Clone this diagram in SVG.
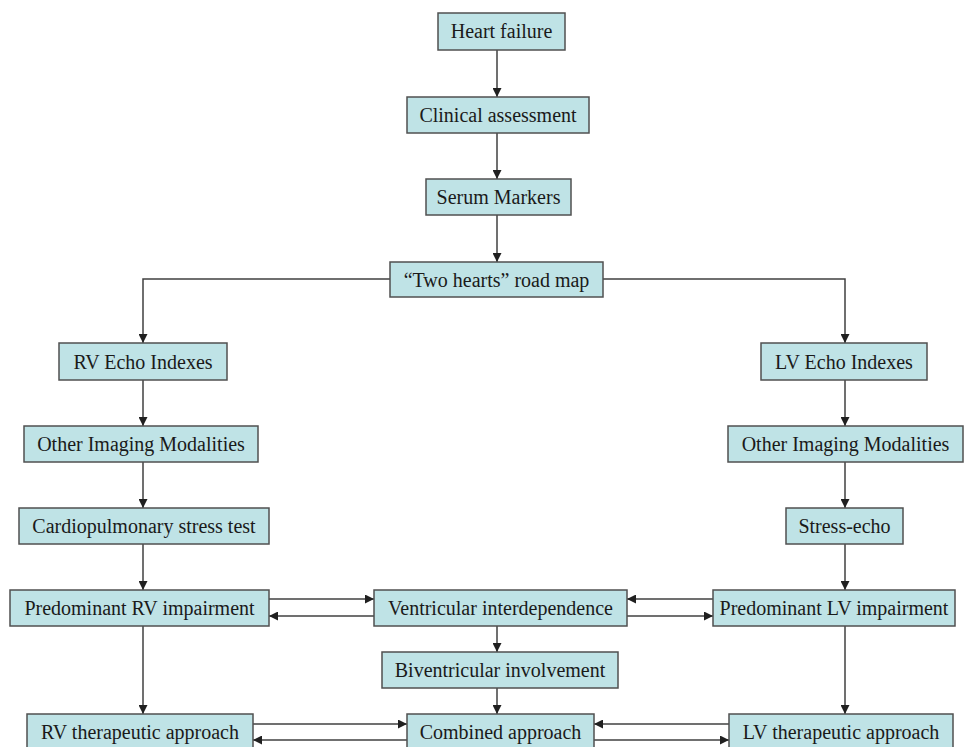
<svg xmlns="http://www.w3.org/2000/svg" width="968" height="747" viewBox="0 0 968 747">
<style>
.box{fill:#bfe3e6;stroke:#505050;stroke-width:1.5}
.lbl{font-family:"Liberation Serif","Times New Roman",serif;font-size:20px;fill:#1a1a1a;text-anchor:middle}
.con{fill:none;stroke:#404040;stroke-width:1.5;marker-end:url(#ah)}
</style>
<defs>
<marker id="ah" markerUnits="userSpaceOnUse" markerWidth="9" markerHeight="9" refX="9" refY="4.5" orient="auto">
<path d="M0,0 L9,4.5 L0,9 z" fill="#202020"/>
</marker>
</defs>
<rect width="968" height="747" fill="#ffffff"/>
<g id="connectors">
<line class="con" x1="497" y1="50" x2="497" y2="97"/>
<line class="con" x1="497" y1="133" x2="497" y2="179"/>
<line class="con" x1="497" y1="215" x2="497" y2="262"/>
<path class="con" d="M390,279 H143 V343"/>
<path class="con" d="M603,279 H845 V343"/>
<line class="con" x1="143" y1="380" x2="143" y2="426"/>
<line class="con" x1="143" y1="462" x2="143" y2="508"/>
<line class="con" x1="143" y1="544" x2="143" y2="590"/>
<line class="con" x1="143" y1="626" x2="143" y2="714"/>
<line class="con" x1="845" y1="380" x2="845" y2="426"/>
<line class="con" x1="845" y1="462" x2="845" y2="508"/>
<line class="con" x1="845" y1="544" x2="845" y2="590"/>
<line class="con" x1="845" y1="626" x2="845" y2="714"/>
<line class="con" x1="269" y1="599" x2="374" y2="599"/>
<line class="con" x1="374" y1="616" x2="269" y2="616"/>
<line class="con" x1="713" y1="599" x2="627" y2="599"/>
<line class="con" x1="627" y1="616" x2="713" y2="616"/>
<line class="con" x1="497" y1="626" x2="497" y2="652"/>
<line class="con" x1="497" y1="688" x2="497" y2="714"/>
<line class="con" x1="253" y1="724" x2="407" y2="724"/>
<line class="con" x1="407" y1="740" x2="253" y2="740"/>
<line class="con" x1="729" y1="724" x2="594" y2="724"/>
<line class="con" x1="594" y1="740" x2="729" y2="740"/>
</g>
<g id="heart-failure"><rect class="box" x="438" y="13" width="127" height="37"/><text class="lbl" x="501.5" y="38">Heart failure</text></g>
<g id="clinical-assessment"><rect class="box" x="407" y="97" width="182" height="36"/><text class="lbl" x="498" y="122">Clinical assessment</text></g>
<g id="serum-markers"><rect class="box" x="426" y="179" width="145" height="36"/><text class="lbl" x="498.5" y="204">Serum Markers</text></g>
<g id="two-hearts"><rect class="box" x="390" y="262" width="213" height="35"/><text class="lbl" x="496.5" y="287">“Two hearts” road map</text></g>
<g id="rv-echo"><rect class="box" x="59" y="343" width="168" height="37"/><text class="lbl" x="143" y="369">RV Echo Indexes</text></g>
<g id="rv-other"><rect class="box" x="24" y="426" width="234" height="36"/><text class="lbl" x="141" y="451">Other Imaging Modalities</text></g>
<g id="cardiopulmonary"><rect class="box" x="19" y="508" width="250" height="36"/><text class="lbl" x="144" y="533">Cardiopulmonary stress test</text></g>
<g id="rv-impairment"><rect class="box" x="10" y="590" width="259" height="36"/><text class="lbl" x="139.5" y="615">Predominant RV impairment</text></g>
<g id="rv-therapeutic"><rect class="box" x="27" y="714" width="226" height="36"/><text class="lbl" x="140" y="739">RV therapeutic approach</text></g>
<g id="lv-echo"><rect class="box" x="761" y="343" width="166" height="37"/><text class="lbl" x="844" y="369">LV Echo Indexes</text></g>
<g id="lv-other"><rect class="box" x="728" y="426" width="235" height="36"/><text class="lbl" x="845.5" y="451">Other Imaging Modalities</text></g>
<g id="stress-echo"><rect class="box" x="786" y="508" width="117" height="36"/><text class="lbl" x="844.5" y="533">Stress-echo</text></g>
<g id="lv-impairment"><rect class="box" x="713" y="590" width="242" height="36"/><text class="lbl" x="834" y="615">Predominant LV impairment</text></g>
<g id="lv-therapeutic"><rect class="box" x="729" y="714" width="224" height="36"/><text class="lbl" x="841" y="739">LV therapeutic approach</text></g>
<g id="ventricular-interdependence"><rect class="box" x="374" y="590" width="253" height="36"/><text class="lbl" x="500.5" y="615">Ventricular interdependence</text></g>
<g id="biventricular"><rect class="box" x="382" y="652" width="236" height="36"/><text class="lbl" x="500" y="677">Biventricular involvement</text></g>
<g id="combined"><rect class="box" x="407" y="714" width="187" height="36"/><text class="lbl" x="500.5" y="739">Combined approach</text></g>
</svg>
